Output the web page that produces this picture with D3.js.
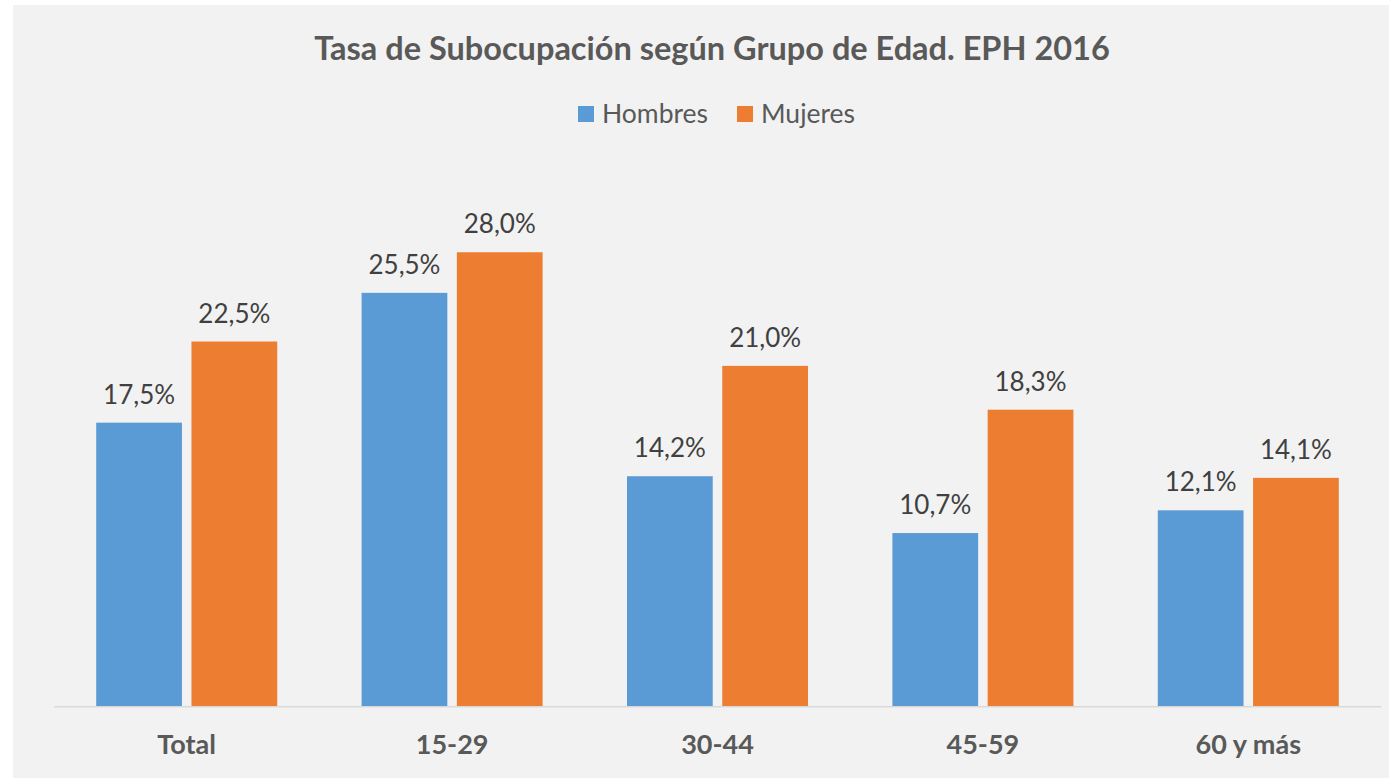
<!DOCTYPE html>
<html>
<head>
<meta charset="utf-8">
<script src="https://cdn.jsdelivr.net/npm/d3@7"></script>
<style>
  body { margin: 0; background: #ffffff; }
  text { font-family: "Lato", "Open Sans", sans-serif; }
</style>
</head>
<body>
<svg id="chart" width="1389" height="779"></svg>
<script>
const categories = ["Total", "15-29", "30-44", "45-59", "60 y más"];
const seriesNames = ["Hombres", "Mujeres"];
const hombres = [17.5, 25.5, 14.2, 10.7, 12.1];
const mujeres = [22.5, 28.0, 21.0, 18.3, 14.1];
const colors = ["#5b9bd5", "#ed7d31"];

const svg = d3.select("#chart");
const width = +svg.attr("width");
const height = +svg.attr("height");

// chart panel
svg.append("rect")
  .attr("x", 13).attr("y", 5)
  .attr("width", width - 13).attr("height", height - 6)
  .attr("fill", "#f2f2f2");

const plot = { left: 54, right: 1381, bottom: 706.7 };

const xScale = d3.scaleBand()
  .domain(categories)
  .range([plot.left, plot.right])
  .paddingInner(0.318)
  .paddingOuter(0.159);

const xSub = d3.scaleBand()
  .domain(seriesNames)
  .range([0, xScale.bandwidth()])
  .paddingInner(0.1);

const yScale = d3.scaleLinear()
  .domain([0, 30])
  .range([plot.bottom, plot.bottom - 30 * 16.23]);

const rows = categories.map((c, i) => ({
  cat: c,
  values: [
    { name: seriesNames[0], v: hombres[i] },
    { name: seriesNames[1], v: mujeres[i] }
  ]
}));

const color = d3.scaleOrdinal().domain(seriesNames).range(colors);
const fmt = (v) => v.toFixed(1).replace(".", ",") + "%";

// title
svg.append("text")
  .attr("x", 712).attr("y", 60)
  .attr("text-anchor", "middle")
  .attr("font-size", 32.5)
  .attr("font-weight", "bold")
  .attr("fill", "#595959")
  .text("Tasa de Subocupación según Grupo de Edad. EPH 2016");

// legend
const legendX = [578, 737];
const legend = svg.append("g").attr("class", "legend");
seriesNames.forEach((s, i) => {
  legend.append("rect")
    .attr("x", legendX[i]).attr("y", 106)
    .attr("width", 16).attr("height", 16)
    .attr("fill", color(s));
  legend.append("text")
    .attr("x", legendX[i] + 24).attr("y", 122.5)
    .attr("font-size", 26.5)
    .attr("fill", "#595959")
    .text(s);
});

// bars
const groups = svg.append("g").selectAll("g")
  .data(rows)
  .join("g")
  .attr("transform", (d) => `translate(${xScale(d.cat)},0)`);

groups.selectAll("rect")
  .data((d) => d.values)
  .join("rect")
  .attr("x", (d) => xSub(d.name))
  .attr("y", (d) => yScale(d.v))
  .attr("width", xSub.bandwidth())
  .attr("height", (d) => yScale(0) - yScale(d.v))
  .attr("fill", (d) => color(d.name));

groups.selectAll("text.val")
  .data((d) => d.values)
  .join("text")
  .attr("class", "val")
  .attr("x", (d) => xSub(d.name) + xSub.bandwidth() / 2)
  .attr("y", (d) => yScale(d.v) - 19)
  .attr("text-anchor", "middle")
  .attr("font-size", 26)
  .attr("fill", "#404040")
  .text((d) => fmt(d.v));

// x axis
const xAxis = d3.axisBottom(xScale).tickSize(0).tickPadding(28);
const axisG = svg.append("g")
  .attr("transform", `translate(0,${plot.bottom})`)
  .call(xAxis);
axisG.select(".domain")
  .attr("stroke", "#d9d9d9")
  .attr("stroke-width", 1.5)
  .attr("d", `M${plot.left},0H${plot.right}`);
axisG.selectAll(".tick text")
  .attr("font-size", 27)
  .attr("font-weight", "bold")
  .attr("fill", "#595959")
  .attr("font-family", "Lato, 'Open Sans', sans-serif");
</script>
</body>
</html>
